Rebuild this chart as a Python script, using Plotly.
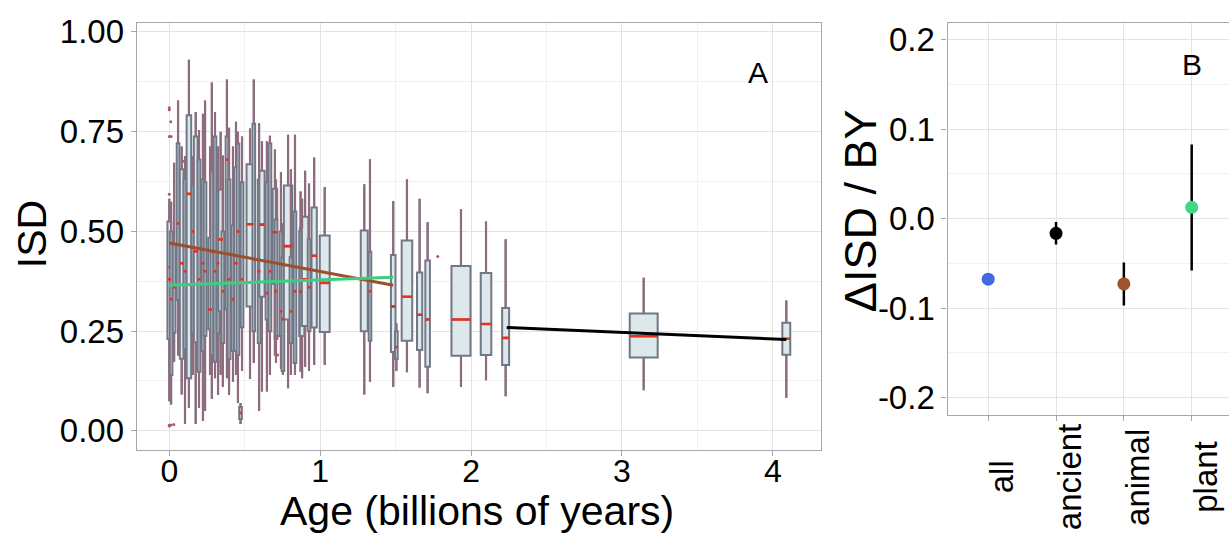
import numpy as np
import plotly.graph_objects as go

# ---------------- Panel A data: per-age boxplots of ISD ----------------
ages = [0.000, 0.012, 0.032, 0.058, 0.082, 0.104, 0.130, 0.157, 0.175, 0.197,
        0.223, 0.237, 0.270, 0.282, 0.303, 0.323, 0.340, 0.355, 0.382, 0.396,
        0.422, 0.442, 0.455, 0.472, 0.482, 0.535, 0.560, 0.595, 0.614, 0.647,
        0.667, 0.700, 0.707, 0.740, 0.753, 0.787, 0.806, 0.833, 0.870, 0.880,
        0.900, 0.926, 0.960, 1.030, 1.292, 1.330, 1.484, 1.505, 1.575, 1.659,
        1.712, 1.933, 2.099, 2.229, 3.144, 4.089]
isd_low = [0.074, 0.066, 0.173, 0.189, 0.091, 0.017, 0.058, 0.140, 0.017, 0.058,
           0.025, 0.050, 0.140, 0.080, 0.132, 0.090, 0.140, 0.110, 0.132, 0.090,
           0.123, 0.140, 0.070, 0.017, 0.150, 0.130, 0.170, 0.050, 0.099, 0.099,
           0.140, 0.189, 0.170, 0.156, 0.140, 0.107, 0.140, 0.140, 0.148, 0.132,
           0.160, 0.150, 0.165, 0.165, 0.091, 0.123, 0.110, 0.150, 0.147, 0.109,
           0.094, 0.110, 0.127, 0.087, 0.102, 0.083]
isd_q1 = [0.230, 0.140, 0.246, 0.328, 0.181, 0.205, 0.132, 0.246, 0.222, 0.148,
          0.200, 0.238, 0.255, 0.190, 0.173, 0.245, 0.300, 0.220, 0.304, 0.180,
          0.200, 0.200, 0.190, 0.030, 0.260, 0.312, 0.250, 0.220, 0.336, 0.279,
          0.250, 0.369, 0.230, 0.238, 0.150, 0.279, 0.220, 0.170, 0.238, 0.238,
          0.263, 0.250, 0.259, 0.248, 0.250, 0.226, 0.198, 0.180, 0.226, 0.203,
          0.161, 0.188, 0.190, 0.165, 0.184, 0.191]
isd_median = [0.380, 0.330, 0.360, 0.520, 0.420, 0.400, 0.594, 0.500, 0.450, 0.380,
              0.420, 0.400, 0.304, 0.450, 0.400, 0.420, 0.480, 0.350, 0.680, 0.380,
              0.330, 0.420, 0.500, 0.045, 0.380, 0.518, 0.430, 0.400, 0.517, 0.345,
              0.400, 0.498, 0.350, 0.300, 0.280, 0.463, 0.300, 0.350, 0.349, 0.377,
              0.380, 0.360, 0.439, 0.371, 0.380, 0.350, 0.312, 0.210, 0.336, 0.291,
              0.279, 0.279, 0.268, 0.233, 0.237, 0.231]
isd_q3 = [0.525, 0.500, 0.467, 0.721, 0.656, 0.631, 0.791, 0.615, 0.738, 0.680,
          0.630, 0.623, 0.484, 0.650, 0.738, 0.600, 0.605, 0.500, 0.738, 0.630,
          0.515, 0.660, 0.720, 0.060, 0.623, 0.668, 0.770, 0.630, 0.652, 0.623,
          0.720, 0.607, 0.530, 0.500, 0.435, 0.615, 0.435, 0.550, 0.500, 0.508,
          0.537, 0.480, 0.560, 0.490, 0.502, 0.449, 0.441, 0.250, 0.477, 0.397,
          0.427, 0.413, 0.396, 0.308, 0.294, 0.271]
isd_high = [0.582, 0.574, 0.672, 0.828, 0.713, 0.689, 0.930, 0.689, 0.799, 0.754,
            0.795, 0.828, 0.713, 0.873, 0.799, 0.713, 0.750, 0.690, 0.881, 0.760,
            0.713, 0.775, 0.750, 0.070, 0.738, 0.758, 0.881, 0.771, 0.726, 0.726,
            0.740, 0.705, 0.630, 0.648, 0.521, 0.742, 0.656, 0.742, 0.600, 0.582,
            0.652, 0.620, 0.685, 0.611, 0.618, 0.681, 0.576, 0.270, 0.631, 0.582,
            0.523, 0.556, 0.525, 0.480, 0.384, 0.327]
sample_size = [2, 1, 1, 1, 2, 1, 3, 1, 2, 1,
               1, 1, 2, 1, 1, 1, 3, 1, 1, 1,
               1, 2, 1, 1, 1, 7, 1, 1, 4, 1,
               1, 3, 1, 1, 1, 10, 1, 1, 1, 3,
               6, 1, 4, 14, 7, 1, 3, 1, 16, 4,
               3, 52, 16, 7, 112, 9]

outlier_age = [0.0, 0.0, 0.01, 0.0, 0.012, 0.089, 0.0, 0.0, 0.0, 0.0, 0.012, 0.03, 0.718, 0.718, 1.779]
outlier_isd = [0.81, 0.805, 0.775, 0.738, 0.738, 0.676, 0.593, 0.41, 0.012, 0.014, 0.015, 0.016, 0.238, 0.19, 0.437]

# fitted trends (start/end points): animal, plant, ancient
trend_names = ["animal", "plant", "ancient"]
trend_age_start = [0.0, 0.0, 2.236]
trend_age_end = [1.484, 1.484, 4.089]
trend_isd_start = [0.471, 0.365, 0.259]
trend_isd_end = [0.365, 0.385, 0.229]

# ---------------- Panel B data: slopes ----------------
groups = ["all", "ancient", "animal", "plant"]
slope = [-0.0676, -0.0164, -0.073, 0.0127]
slope_low = [-0.071, -0.029, -0.097, -0.058]
slope_high = [-0.064, -0.0037, -0.049, 0.083]

# ---------------- styling ----------------
FONT = "Liberation Sans, Arial, Helvetica, sans-serif"
BOX_FILL = "#dce8ea"
BOX_LINE = "#707787"
WHISKER = "#8d6c7e"
MEDIAN = "#e8301c"
GRID = "#e3e3e3"
GRID_MINOR = "#f1f1f1"
BORDER = "#a8a8a8"
trend_colors = {"animal": "#9c4f2b", "plant": "#3ccf80", "ancient": "#000000"}
point_colors = ["#4169e1", "#000000", "#a0522d", "#3ed888"]

W, H = 1229, 536
def px(x):
    return x / W
def py(y):
    return 1 - y / H

fig = go.Figure()

widths = [0.0175 * np.sqrt(n) for n in sample_size]

for a, lo, q1, md, q3, hi, w in zip(ages, isd_low, isd_q1, isd_median, isd_q3, isd_high, widths):
    fig.add_trace(go.Box(
        x=[a], q1=[q1], median=[md], q3=[q3], lowerfence=[lo], upperfence=[hi],
        width=w, fillcolor=BOX_FILL, line=dict(color=BOX_LINE, width=2),
        whiskerwidth=0, boxpoints=False, showlegend=False, hoverinfo="skip",
        xaxis="x", yaxis="y"))

# whiskers (mauve)
wx, wy = [], []
for a, lo, q1, q3, hi in zip(ages, isd_low, isd_q1, isd_q3, isd_high):
    wx += [a, a, None, a, a, None]
    wy += [lo, q1, None, q3, hi, None]
fig.add_trace(go.Scatter(x=wx, y=wy, mode="lines", line=dict(color=WHISKER, width=2.2),
                         showlegend=False, hoverinfo="skip", xaxis="x", yaxis="y"))

# medians (red)
mx, my = [], []
for a, md, w in zip(ages, isd_median, widths):
    mx += [a - w / 2, a + w / 2, None]
    my += [md, md, None]
fig.add_trace(go.Scatter(x=mx, y=my, mode="lines", line=dict(color=MEDIAN, width=2.6),
                         showlegend=False, hoverinfo="skip", xaxis="x", yaxis="y"))

# outliers
fig.add_trace(go.Scatter(x=outlier_age, y=outlier_isd, mode="markers",
                         marker=dict(color="#b0566a", size=3),
                         showlegend=False, hoverinfo="skip", xaxis="x", yaxis="y"))

# trend lines
for name, x0, x1, y0, y1 in zip(trend_names, trend_age_start, trend_age_end, trend_isd_start, trend_isd_end):
    fig.add_trace(go.Scatter(x=[x0, x1], y=[y0, y1], mode="lines",
                             line=dict(color=trend_colors[name], width=3),
                             showlegend=False, hoverinfo="skip", xaxis="x", yaxis="y"))

# Panel B points with error bars
err_plus = [h - s for h, s in zip(slope_high, slope)]
err_minus = [s - l for s, l in zip(slope, slope_low)]
fig.add_trace(go.Scatter(
    x=groups, y=slope, mode="markers",
    marker=dict(color=point_colors, size=13),
    error_y=dict(type="data", array=err_plus, arrayminus=err_minus,
                 color="#000000", thickness=2.5, width=0),
    showlegend=False, hoverinfo="skip", xaxis="x2", yaxis="y2"))

axis_common = dict(showline=True, linecolor=BORDER, linewidth=1.3, ticks="outside",
                   ticklen=5, tickcolor=BORDER, tickwidth=1.3, zeroline=False,
                   gridcolor=GRID, gridwidth=1,
                   tickfont=dict(family=FONT, size=33, color="#000000"))

fig.update_layout(
    width=W, height=H,
    margin=dict(l=0, r=0, t=0, b=0),
    paper_bgcolor="white", plot_bgcolor="white",
    boxmode="overlay",
    font=dict(family=FONT, color="#000000"),
    xaxis=dict(domain=[px(136.8), px(820.7)], range=[-0.2154, 4.317],
               tickmode="array", tickvals=[0, 1, 2, 3, 4], mirror=True,
               ticklabelstandoff=-12,
               minor=dict(dtick=0.5, showgrid=True, gridcolor=GRID_MINOR, ticks=""),
               anchor="y", **{**axis_common, "tickfont": dict(family=FONT, size=32, color="#000000")}),
    yaxis=dict(domain=[py(449), py(14)], range=[-0.047, 1.023],
               tickmode="array", tickvals=[0, 0.25, 0.5, 0.75, 1.0],
               ticktext=["0.00", "0.25", "0.50", "0.75", "1.00"], mirror=True,
               minor=dict(dtick=0.125, showgrid=True, gridcolor=GRID_MINOR, ticks=""),
               anchor="x", **axis_common),
    xaxis2=dict(domain=[px(947.5), 1.0], range=[-0.6, 3.55], type="category",
                categoryorder="array", categoryarray=groups, mirror=True,
                showticklabels=False, anchor="y2", **axis_common),
    yaxis2=dict(domain=[py(413.3), py(14)], range=[-0.219, 0.219],
                tickmode="array", tickvals=[-0.2, -0.1, 0.0, 0.1, 0.2],
                ticktext=["-0.2", "-0.1", "0.0", "0.1", "0.2"], mirror=False,
                minor=dict(dtick=0.05, showgrid=True, gridcolor=GRID_MINOR, ticks=""),
                anchor="x2", **axis_common),
)

ann = []
ann.append(dict(text="ISD", x=px(31.5), y=py(230), xref="paper", yref="paper",
                textangle=-90, showarrow=False, xanchor="center", yanchor="middle",
                font=dict(family=FONT, size=41, color="#000")))
ann.append(dict(text="Age (billions of years)", x=px(477), y=py(512), xref="paper", yref="paper",
                showarrow=False, xanchor="center", yanchor="middle",
                font=dict(family=FONT, size=41, color="#000")))
ann.append(dict(text="ΔISD / BY", x=px(860), y=py(206), xref="paper", yref="paper",
                textangle=-90, showarrow=False, xanchor="center", yanchor="middle",
                font=dict(family=FONT, size=45, color="#000")))
ann.append(dict(text="A", x=px(757.5), y=py(65), xref="paper", yref="paper",
                showarrow=False, xanchor="center", yanchor="middle",
                font=dict(family=FONT, size=30, color="#000")))
ann.append(dict(text="B", x=px(1192), y=py(57), xref="paper", yref="paper",
                showarrow=False, xanchor="center", yanchor="middle",
                font=dict(family=FONT, size=30, color="#000")))
for g in groups:
    ann.append(dict(text=g, x=g, y=py(477), xref="x2", yref="paper", xshift=13,
                    textangle=-90, showarrow=False, xanchor="center", yanchor="middle",
                    font=dict(family=FONT, size=33, color="#000")))
fig.update_layout(annotations=ann)

fig.write_html("out.html")
